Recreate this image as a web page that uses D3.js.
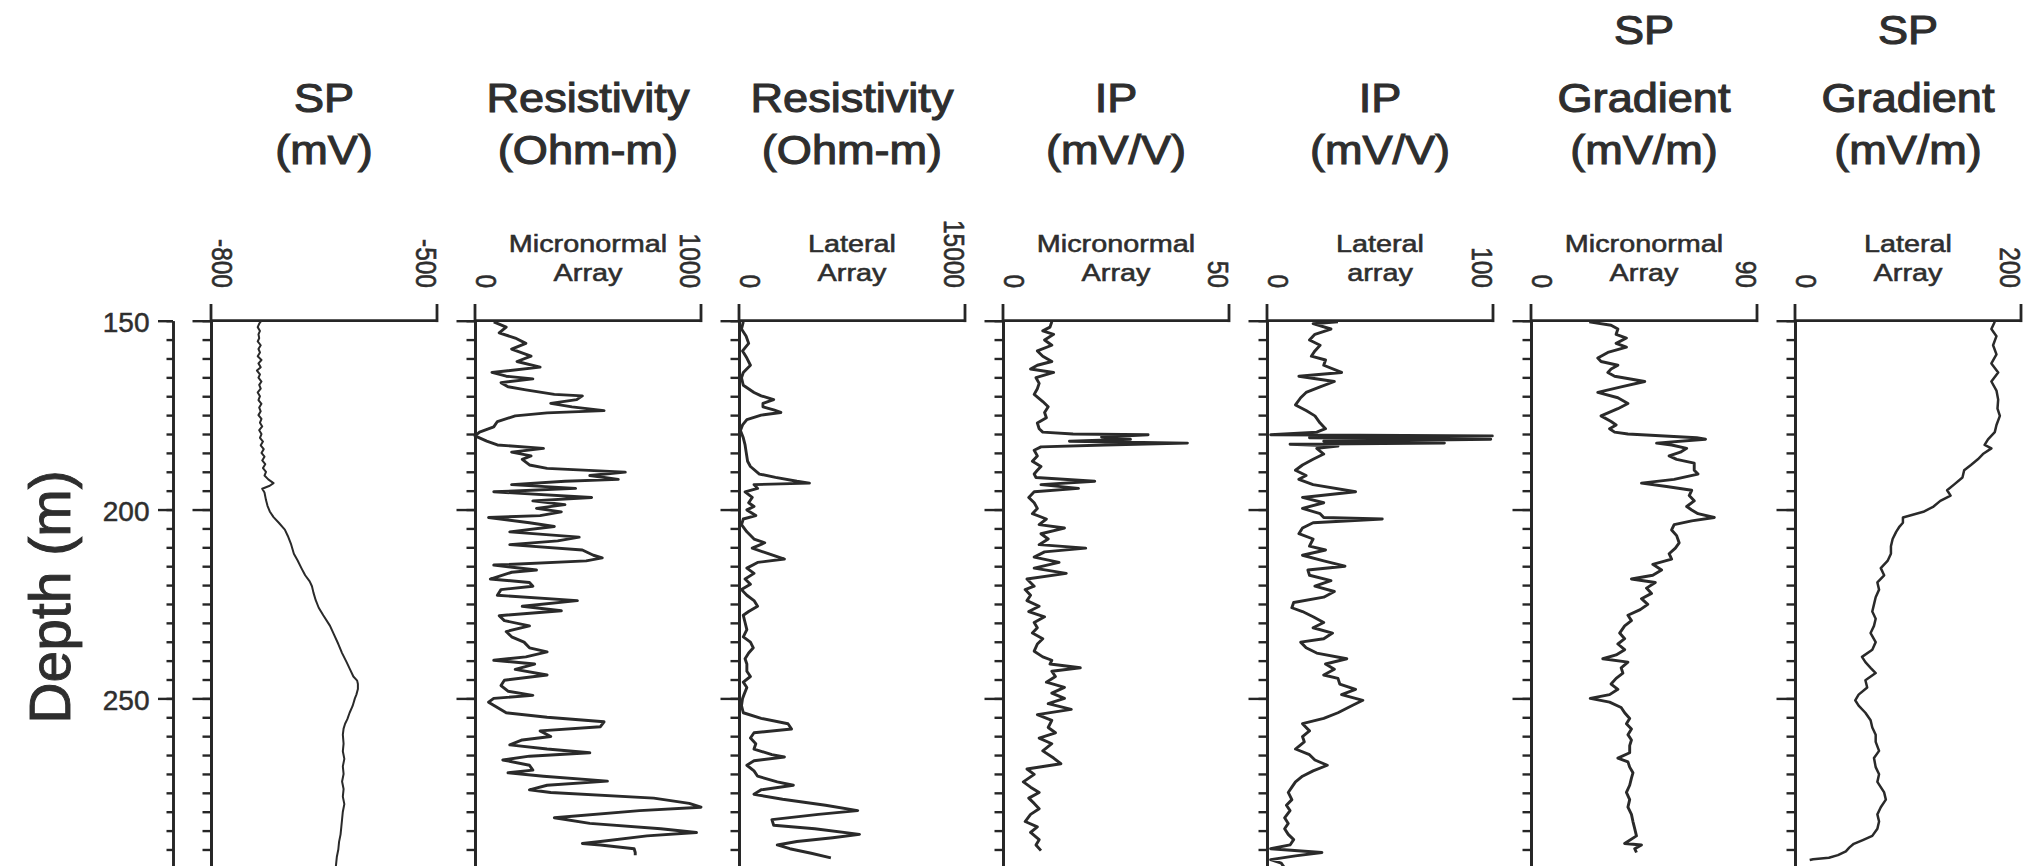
<!DOCTYPE html>
<html><head><meta charset="utf-8">
<script src="https://cdn.jsdelivr.net/npm/d3@7/dist/d3.min.js"></script>
<style>
body{margin:0;background:#fff;}
svg{display:block;}
text{font-family:"Liberation Sans", Arial, Helvetica, sans-serif;}
</style>
</head><body>
<svg id="chart" width="2028" height="866"></svg>
<script>
// ---------------- DATA ----------------
const depthMajorTicks = [150, 200, 250];
const depthMinorTicks = d3.range(150, 301, 5);

const trackTitles = [
  ["SP", "(mV)"],
  ["Resistivity", "(Ohm-m)"],
  ["Resistivity", "(Ohm-m)"],
  ["IP", "(mV/V)"],
  ["IP", "(mV/V)"],
  ["SP", "Gradient", "(mV/m)"],
  ["SP", "Gradient", "(mV/m)"]
];
const trackSubtitles = [
  [],
  ["Micronormal", "Array"],
  ["Lateral", "Array"],
  ["Micronormal", "Array"],
  ["Lateral", "array"],
  ["Micronormal", "Array"],
  ["Lateral", "Array"]
];
const trackDomains = [[-800, -500], [0, 1000], [0, 15000], [0, 50], [0, 100], [0, 90], [0, 200]];

// [depth (m), value]
const spLog = [[150.0,-733],[150.8,-736],[151.7,-738],[152.7,-735],[153.6,-737],[154.6,-736],[155.5,-738],[156.5,-734],[157.5,-737],[158.4,-735],[159.4,-738],[160.4,-733],[161.3,-737],[162.3,-734],[163.2,-739],[164.2,-735],[165.1,-737],[166.1,-733],[167.0,-736],[168.0,-734],[169.0,-738],[170.0,-735],[171.0,-737],[172.0,-733],[173.0,-736],[174.0,-734],[175.0,-737],[176.0,-733],[177.0,-735],[178.0,-732],[179.0,-736],[180.0,-733],[181.0,-735],[182.0,-731],[183.0,-734],[184.0,-730],[185.0,-733],[186.0,-729],[187.0,-732],[188.0,-728],[189.0,-731],[190.0,-727],[191.0,-729],[192.0,-724],[193.0,-717],[193.7,-722],[194.5,-732],[195.5,-729],[197.5,-727],[199.0,-725],[200.5,-722],[202.0,-717],[203.5,-710],[205.3,-702],[207.0,-698],[209.0,-694],[211.7,-690],[213.5,-685],[215.5,-680],[217.4,-675],[219.0,-669],[220.3,-666],[222.0,-664],[224.0,-661],[226.0,-657],[228.0,-651],[230.8,-642],[233.0,-637],[235.6,-631],[238.0,-626],[240.4,-620],[242.5,-615],[244.2,-611],[245.3,-606],[246.2,-605],[247.5,-605],[249.0,-607],[250.0,-609],[252.0,-612],[253.8,-616],[255.5,-619],[256.7,-622],[258.0,-624],[259.6,-625],[262.0,-624],[264.0,-625],[266.0,-623],[268.0,-625],[270.0,-624],[272.0,-626],[274.0,-624],[276.0,-625],[278.0,-623],[280.0,-625],[282.0,-626],[284.0,-627],[286.0,-628],[288.0,-630],[290.0,-631],[292.0,-633],[294.0,-634],[296.0,-635]];

const resMicro = [[150.3,83],[151.7,138],[153.2,107],[154.6,178],[156.0,225],[157.5,162],[159.4,248],[160.8,186],[162.3,288],[163.7,75],[164.7,138],[165.4,256],[166.4,115],[167.5,146],[168.3,225],[169.5,351],[169.9,475],[170.9,450],[171.9,335],[172.8,429],[173.8,571],[174.4,319],[175.2,178],[176.7,99],[178.1,83],[179.5,20],[180.5,0],[181.9,52],[182.9,99],[183.8,303],[184.8,162],[185.8,248],[186.7,209],[188.2,241],[189.1,319],[190.1,665],[191.0,508],[192.0,634],[192.5,398],[193.4,162],[194.4,445],[195.3,83],[196.8,516],[197.7,256],[198.7,398],[199.7,272],[200.6,382],[201.6,288],[202.1,60],[203.5,241],[204.5,351],[205.9,154],[207.3,461],[208.3,366],[209.3,154],[210.7,475],[212.1,524],[212.8,563],[213.6,492],[214.7,83],[216.0,272],[216.6,162],[218.4,68],[219.3,241],[220.3,256],[221.2,115],[222.7,99],[224.1,453],[225.6,209],[226.8,382],[228.1,107],[229.4,130],[230.8,241],[232.3,138],[233.7,162],[235.1,217],[236.6,241],[237.7,319],[239.0,225],[239.9,83],[240.9,264],[242.3,178],[243.8,319],[245.2,130],[246.6,115],[248.1,146],[249.2,256],[250.0,83],[251.0,60],[252.4,99],[253.8,138],[255.0,319],[256.2,571],[257.5,555],[258.6,288],[260.1,335],[261.0,209],[262.3,154],[263.4,319],[264.4,508],[265.3,241],[266.3,123],[267.7,241],[269.0,256],[269.7,146],[270.6,303],[271.9,586],[273.0,319],[274.2,241],[274.9,335],[276.4,791],[277.8,948],[278.8,1000],[279.7,728],[281.6,351],[283.1,508],[284.5,822],[285.5,980],[286.4,761],[287.9,555],[288.4,475],[288.8,555],[289.8,704],[290.8,709],[291.5,709]];

const resLateral = [[150.3,285],[152.2,166],[154.1,475],[156.0,641],[158.0,237],[159.9,522],[161.8,759],[163.7,285],[165.1,166],[167.1,285],[169.0,997],[169.9,1472],[170.9,2302],[171.9,1590],[172.8,1590],[173.6,2302],[174.3,2777],[175.0,1472],[176.2,522],[177.6,237],[179.1,95],[181.0,285],[182.9,403],[184.8,475],[187.2,570],[188.6,759],[190.6,1353],[191.5,2421],[192.5,3845],[193.0,4676],[193.4,997],[194.4,1234],[195.3,403],[196.8,878],[198.2,641],[199.2,997],[200.1,522],[201.6,1115],[202.5,285],[204.0,166],[205.9,522],[207.8,997],[208.8,1709],[210.2,878],[211.7,1946],[213.1,3014],[214.0,1234],[215.5,522],[216.9,997],[218.4,403],[219.8,759],[221.2,166],[222.7,522],[224.1,997],[225.6,1234],[227.0,641],[228.0,285],[229.9,403],[231.8,522],[233.7,285],[235.1,759],[236.6,949],[238.0,641],[239.5,403],[240.9,522],[242.8,522],[244.2,759],[245.7,285],[247.1,522],[249.0,332],[250.0,237],[251.9,166],[253.8,285],[255.3,1472],[256.7,3251],[258.1,3489],[259.1,997],[260.5,759],[262.0,1115],[263.4,997],[264.9,2184],[265.5,3014],[266.5,997],[267.7,522],[269.2,997],[270.6,1234],[272.1,2540],[273.0,3608],[274.2,1472],[275.4,997],[276.7,2896],[278.3,5744],[279.7,7880],[280.7,5269],[282.1,2184],[283.6,2302],[284.5,5032],[286.0,7998],[286.9,6218],[287.9,3845],[288.8,2540],[289.8,3370],[291.0,4794],[292.2,6098]];

const ipMicro = [[150.3,10.8],[151.7,10.4],[152.7,8.8],[153.6,11.2],[155.1,9.2],[156.5,10.8],[158.0,7.6],[159.4,8.8],[160.8,10.8],[161.8,7.6],[162.8,6.1],[163.7,11.2],[165.1,7.3],[166.6,8.0],[168.0,7.6],[169.5,6.9],[171.4,8.8],[172.8,10.0],[174.3,9.2],[175.7,9.6],[177.1,7.6],[178.6,8.0],[179.5,8.8],[180.0,15.5],[180.2,32.1],[180.8,21.8],[181.4,28.2],[181.9,14.7],[182.4,40.8],[182.9,22.6],[183.4,8.4],[184.3,6.9],[185.8,7.6],[187.2,6.5],[188.6,8.4],[189.6,7.6],[190.6,6.9],[191.5,7.3],[192.5,20.3],[193.4,8.4],[194.4,16.7],[195.3,6.9],[196.8,5.7],[198.2,6.9],[199.7,7.6],[201.1,6.5],[202.5,9.6],[204.0,8.0],[204.9,13.6],[206.4,8.4],[207.8,10.0],[209.3,8.0],[210.2,18.3],[211.2,9.2],[212.6,6.9],[214.0,12.4],[215.5,6.9],[216.9,14.0],[218.4,5.3],[220.3,6.9],[221.2,4.9],[222.7,6.1],[224.1,5.3],[225.6,8.0],[227.0,5.7],[228.4,9.2],[229.9,6.9],[231.3,7.6],[232.7,6.5],[234.2,8.8],[235.6,7.6],[237.5,6.9],[239.0,8.8],[239.9,10.8],[240.9,10.4],[241.9,17.1],[242.8,10.8],[244.2,11.6],[245.7,9.6],[247.1,13.6],[248.6,10.8],[250.0,13.6],[251.4,10.0],[252.9,15.1],[254.3,7.6],[255.8,10.8],[257.7,10.0],[259.1,11.6],[260.5,8.0],[262.0,10.8],[263.9,8.8],[265.8,11.2],[267.3,12.8],[268.7,5.3],[270.1,6.9],[272.1,4.5],[273.5,6.1],[274.9,8.0],[276.4,5.7],[277.8,6.9],[279.2,8.0],[280.7,6.1],[282.6,4.9],[284.0,7.6],[285.5,6.1],[287.4,8.0],[288.8,7.3],[290.3,8.4]];

const ipLateral = [[150.3,31.4],[150.8,20.4],[152.2,28.3],[153.6,21.2],[155.1,18.8],[156.5,23.5],[158.0,21.2],[159.4,19.6],[160.4,25.9],[161.8,25.1],[163.7,33.0],[164.7,14.1],[166.1,29.8],[167.5,23.5],[169.0,17.3],[170.4,14.9],[172.3,12.6],[173.8,17.3],[175.2,21.2],[177.1,23.5],[178.6,25.9],[179.5,22.0],[180.2,1.6],[180.5,99.7],[181.0,18.8],[181.4,99.0],[181.9,25.1],[182.4,78.5],[182.7,10.2],[183.2,31.4],[183.8,22.0],[185.3,25.1],[186.7,20.4],[188.2,15.7],[189.6,12.6],[191.0,17.3],[192.0,14.1],[193.4,20.4],[195.3,39.2],[196.8,15.7],[198.2,25.1],[199.7,15.7],[201.1,23.5],[202.1,25.1],[202.5,51.0],[203.5,20.4],[204.9,15.7],[206.4,14.1],[207.8,20.4],[209.7,18.8],[210.7,25.9],[212.1,15.7],[213.6,25.1],[215.0,34.5],[216.0,18.1],[217.4,18.8],[218.8,28.3],[220.3,21.2],[221.7,29.8],[223.2,25.1],[224.6,11.8],[226.0,11.0],[227.0,15.7],[228.4,20.4],[229.9,25.1],[231.3,20.4],[232.7,29.0],[234.2,25.1],[235.1,14.9],[236.6,17.3],[238.0,22.0],[239.5,35.3],[240.9,25.9],[242.3,29.8],[243.8,25.1],[244.7,31.4],[246.2,32.2],[247.6,39.2],[249.0,33.0],[250.5,42.4],[251.9,37.7],[253.8,31.4],[255.3,25.1],[256.7,15.7],[258.6,18.8],[260.1,15.7],[261.5,16.5],[263.4,12.6],[264.9,18.8],[266.3,21.2],[267.7,26.7],[269.2,20.4],[270.6,15.7],[272.1,12.6],[273.5,11.0],[274.9,9.4],[276.8,11.0],[278.3,8.6],[279.7,10.2],[281.6,7.8],[283.1,9.4],[284.5,7.8],[286.0,9.4],[287.4,11.8],[288.8,10.2],[289.8,1.6],[290.8,24.3],[291.7,12.6],[292.7,1.6],[293.6,6.3],[294.9,7.8]];

const spgMicro = [[150.3,23.2],[151.2,31.9],[152.2,34.6],[153.6,33.9],[154.6,38.0],[156.0,33.9],[157.0,38.0],[158.4,30.6],[159.9,26.6],[160.8,27.9],[161.8,34.6],[162.8,31.9],[163.7,30.6],[164.7,33.3],[166.1,45.3],[167.5,35.9],[169.0,26.6],[170.4,34.6],[171.9,38.6],[173.3,34.6],[175.2,27.9],[176.7,31.9],[177.6,33.9],[178.6,31.3],[179.5,33.3],[180.0,38.6],[181.0,66.0],[181.4,69.5],[182.4,50.0],[182.9,56.0],[183.8,62.0],[184.8,59.5],[185.8,55.0],[186.7,58.0],[187.7,65.0],[189.6,65.0],[190.6,66.5],[192.0,57.0],[193.0,44.0],[193.9,54.0],[194.9,64.0],[196.3,63.0],[197.7,65.0],[199.2,62.0],[200.1,64.0],[201.1,66.5],[202.1,73.0],[203.0,64.0],[204.0,57.0],[205.4,56.0],[206.9,58.0],[208.8,59.0],[210.2,57.5],[211.7,55.0],[213.1,56.0],[214.5,48.5],[216.0,52.0],[217.4,48.5],[218.4,40.0],[219.3,49.5],[220.8,46.0],[222.2,48.0],[223.6,44.0],[225.1,46.5],[226.5,43.5],[228.0,38.6],[229.4,40.0],[230.8,37.3],[232.7,35.3],[234.2,37.3],[235.6,34.6],[237.1,37.3],[238.5,33.9],[239.5,28.6],[240.4,38.6],[241.9,35.9],[243.3,36.6],[244.7,33.9],[246.2,31.9],[247.6,34.6],[249.0,31.3],[250.0,23.6],[251.0,31.3],[252.4,35.9],[253.8,37.3],[255.3,39.3],[256.7,38.0],[258.1,40.0],[259.6,38.6],[261.0,40.0],[262.5,39.3],[264.4,39.3],[265.8,34.6],[266.8,38.6],[268.2,39.3],[269.7,40.6],[271.1,40.0],[273.0,39.3],[274.9,38.0],[276.8,39.3],[278.8,38.6],[280.7,40.0],[282.6,40.6],[284.5,41.3],[286.4,42.0],[288.4,37.3],[288.8,44.0],[289.8,41.3],[290.8,42.0]];

const spgLateral = [[150.3,176.8],[152.2,173.8],[154.1,178.3],[156.5,175.3],[158.9,178.3],[161.3,173.8],[163.7,179.8],[166.1,173.8],[168.5,178.3],[170.9,179.8],[173.3,179.2],[175.2,181.3],[177.6,178.3],[179.5,176.8],[181.4,170.8],[182.9,167.8],[183.8,173.8],[185.3,166.3],[186.7,161.8],[188.2,155.7],[189.6,149.7],[191.5,148.2],[193.4,140.7],[194.9,134.6],[196.3,137.7],[197.7,128.6],[199.2,122.6],[200.6,113.6],[202.1,95.5],[203.5,95.5],[204.5,92.5],[205.9,89.5],[207.8,86.4],[209.7,84.9],[211.7,84.9],[213.6,81.9],[215.5,75.9],[217.4,78.9],[219.3,72.9],[221.2,74.4],[223.2,71.4],[225.1,69.9],[227.0,68.4],[228.9,71.4],[230.8,69.9],[232.7,66.9],[235.1,71.4],[237.1,68.4],[239.0,59.3],[240.4,62.3],[241.9,66.9],[243.3,71.4],[245.2,62.3],[247.1,63.9],[249.0,56.3],[250.5,53.3],[251.9,56.3],[253.8,62.3],[255.8,66.9],[257.7,68.4],[259.6,71.4],[261.5,71.4],[263.9,74.4],[265.8,69.9],[268.2,71.4],[270.1,74.4],[272.1,72.9],[274.9,78.9],[276.8,80.4],[278.8,75.9],[280.7,72.9],[282.6,74.4],[284.5,72.9],[286.4,68.4],[287.5,60.0],[288.5,52.0],[289.5,48.0],[290.5,45.0],[291.5,38.0],[292.2,30.0],[292.6,16.0],[292.8,13.0]];

const trackData = [spLog, resMicro, resLateral, ipMicro, ipLateral, spgMicro, spgLateral];
const trackLineWidths = [2.0, 2.9, 2.9, 2.9, 2.9, 2.9, 2.5];

// ---------------- LAYOUT ----------------
const svg = d3.select("#chart");
const ink = "#262626";
const textInk = "#2e2e2e";
const topY = 320.7;
const y = d3.scaleLinear().domain([150, 300]).range([topY, topY + 150 * 3.777]);

const trackLeft0 = 211, trackPitch = 264, trackWidth = 226;
const axisTopY = 304;

// Depth axis
const depthX = 173;
const gDepthMinor = svg.append("g").attr("transform", `translate(${depthX},0)`)
  .call(d3.axisLeft(y).tickValues(depthMinorTicks).tickSize(6.5).tickSizeOuter(0).tickFormat(""));
const gDepthMajor = svg.append("g").attr("transform", `translate(${depthX},0)`)
  .call(d3.axisLeft(y).tickValues(depthMajorTicks).tickSize(15).tickSizeOuter(0).tickPadding(8.5).tickFormat(d3.format("d")));
[gDepthMinor, gDepthMajor].forEach(g => {
  g.attr("color", ink);
  g.selectAll("line").attr("stroke-width", 2.4);
  g.selectAll("path.domain").attr("stroke-width", 2.6);
});
gDepthMajor.selectAll("text")
  .attr("font-size", 28).attr("font-family", '"Liberation Sans", Arial, sans-serif')
  .attr("fill", textInk).attr("stroke", textInk).attr("stroke-width", 0.5).attr("dy", "0.40em");

svg.append("text")
  .attr("transform", `translate(70,597) rotate(-90)`)
  .attr("text-anchor", "middle")
  .attr("font-size", 57)
  .attr("fill", textInk)
  .attr("stroke", textInk).attr("stroke-width", 0.9)
  .text("Depth (m)");

// Tracks
trackData.forEach((data, i) => {
  const left = trackLeft0 + trackPitch * i;
  const right = left + trackWidth;
  const dom = trackDomains[i];
  const x = d3.scaleLinear().domain(dom).range([left, right]);
  const cx = (x(dom[0]) + x(dom[1])) / 2;

  const g = svg.append("g");

  const gMinor = g.append("g").attr("transform", `translate(${x(dom[0])},0)`)
    .call(d3.axisLeft(y).tickValues(depthMinorTicks).tickSize(8.5).tickSizeOuter(0).tickFormat(""));
  const gMajor = g.append("g").attr("transform", `translate(${x(dom[0])},0)`)
    .call(d3.axisLeft(y).tickValues(depthMajorTicks).tickSize(18.5).tickSizeOuter(0).tickFormat(""));
  [gMinor, gMajor].forEach(a => {
    a.attr("color", ink);
    a.selectAll("line").attr("stroke-width", 2.4);
    a.selectAll("path.domain").attr("stroke-width", 2.8);
  });
  g.append("line").attr("x1", x(dom[0])).attr("x2", x(dom[0]))
    .attr("y1", axisTopY).attr("y2", y(150)).attr("stroke", ink).attr("stroke-width", 2.8);
  g.append("line").attr("x1", x(dom[0])).attr("x2", x(dom[1]))
    .attr("y1", y(150)).attr("y2", y(150)).attr("stroke", ink).attr("stroke-width", 2.8);
  g.append("line").attr("x1", x(dom[1])).attr("x2", x(dom[1]))
    .attr("y1", axisTopY).attr("y2", y(150) + 1.4).attr("stroke", ink).attr("stroke-width", 2.8);

  g.append("path").datum(data)
    .attr("fill", "none")
    .attr("stroke", "#2a2a2a")
    .attr("stroke-width", trackLineWidths[i])
    .attr("stroke-linejoin", "round")
    .attr("d", d3.line().x(d => x(d[1])).y(d => y(d[0])));

  const kx = 1.2, tickFs = 24.5;
  g.append("text")
    .attr("transform", `translate(${x(dom[0]) + 0.5},288) scale(${kx},1) rotate(90)`)
    .attr("text-anchor", "end").attr("font-size", tickFs).attr("fill", textInk)
    .attr("stroke", textInk).attr("stroke-width", 0.5)
    .text(dom[0]);
  g.append("text")
    .attr("transform", `translate(${x(dom[1]) - 21},288) scale(${kx},1) rotate(90)`)
    .attr("text-anchor", "end").attr("font-size", tickFs).attr("fill", textInk)
    .attr("stroke", textInk).attr("stroke-width", 0.5)
    .text(dom[1]);

  const subY = [252, 281];
  trackSubtitles[i].forEach((s, j) => {
    g.append("text")
      .attr("transform", `translate(${cx},${subY[j]}) scale(1.2,1)`)
      .attr("text-anchor", "middle").attr("font-size", 24).attr("fill", textInk)
      .attr("stroke", textInk).attr("stroke-width", 0.55)
      .text(s);
  });

  const lines = trackTitles[i];
  const baseY = lines.length === 3 ? [44, 112, 164] : [112, 164];
  lines.forEach((s, j) => {
    g.append("text")
      .attr("transform", `translate(${cx},${baseY[j]}) scale(1.1,1)`)
      .attr("text-anchor", "middle").attr("font-size", 41).attr("fill", textInk)
      .attr("stroke", textInk).attr("stroke-width", 1.1)
      .text(s);
  });
});
</script>
</body></html>
